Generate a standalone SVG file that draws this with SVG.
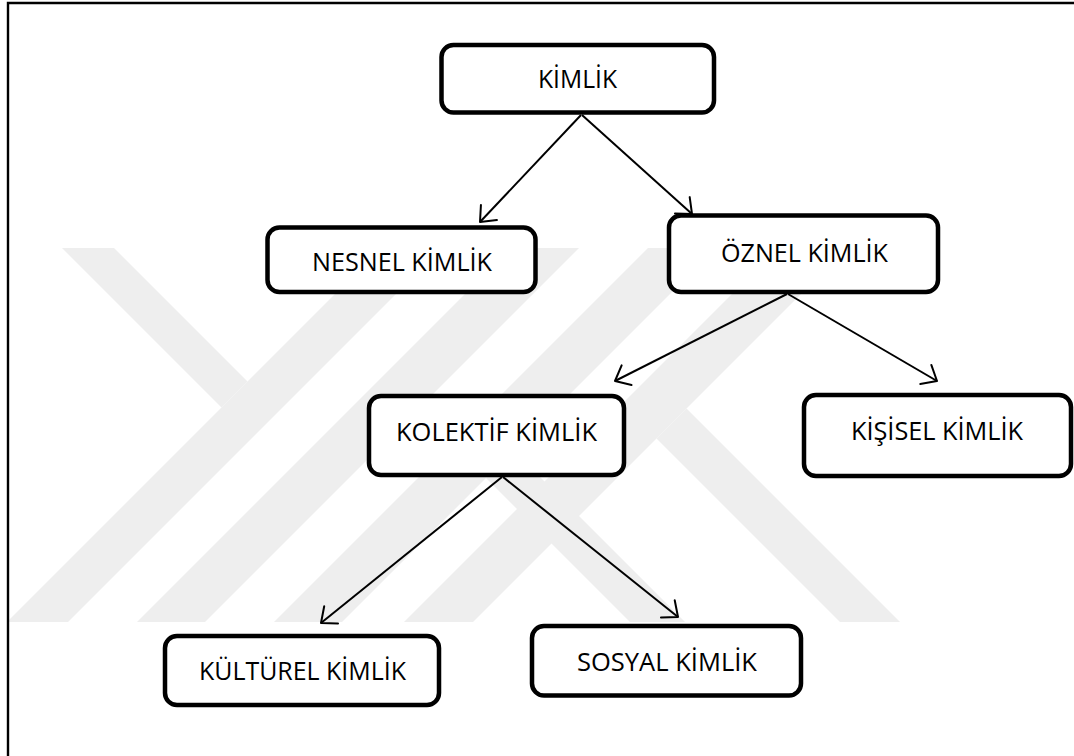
<svg xmlns="http://www.w3.org/2000/svg" width="1074" height="756" viewBox="0 0 1074 756">
  <style>
    .box { fill: #ffffff; stroke: #000000; stroke-width: 4.5; }
    .lbl { font-family: "Open Sans", "Noto Sans", "Liberation Sans", sans-serif; font-size: 26px; fill: #000000; text-anchor: middle; }
    .edge { stroke: #000000; stroke-width: 2; fill: none; marker-end: url(#open-arrow); }
    .frame { stroke: #000000; stroke-width: 2.4; fill: none; }
    .wm { fill: #eeeeee; }
  </style>
  <defs>
    <marker id="open-arrow" markerUnits="userSpaceOnUse" markerWidth="30" markerHeight="30" refX="0" refY="0" orient="auto" overflow="visible">
      <path d="M-13,-11 L0,0 L-13,11" fill="none" stroke="#000000" stroke-width="2" stroke-linecap="round" stroke-linejoin="round"/>
    </marker>
    <clipPath id="wm-clip">
      <rect x="9" y="248" width="1065" height="374"/>
    </clipPath>
  </defs>

  <rect x="0" y="0" width="1074" height="756" fill="#ffffff"/>

  <!-- light background emblem made of diagonal bands -->
  <g id="background-emblem" class="wm" clip-path="url(#wm-clip)">
    <polygon points="7,622 68,622 442,248 381,248"/>
    <polygon points="137,622 205,622 579,248 511,248"/>
    <polygon points="274,622 342,622 716,248 648,248"/>
    <polygon points="404,622 473,622 847,248 778,248"/>
    <polygon points="62,248 114,248 247.5,381.5 221.5,407.5"/>
    <polygon points="656.5,438.5 686.5,408.5 900,622 840,622"/>
    <polygon points="486,478 513.5,450.5 685,622 630,622"/>
  </g>

  <!-- page frame -->
  <path class="frame" d="M8,756 L8,3 L1074,3"/>

  <g id="connectors">
    <line class="edge" x1="581" y1="115" x2="480" y2="222"/>
    <line class="edge" x1="582" y1="115" x2="692" y2="214"/>
    <line class="edge" x1="787" y1="294" x2="615" y2="381"/>
    <line class="edge" x1="788" y1="294" x2="937" y2="381"/>
    <line class="edge" x1="502" y1="477" x2="321" y2="623"/>
    <line class="edge" x1="503" y1="477" x2="678" y2="617"/>
  </g>

  <g id="node-kimlik">
    <rect class="box" x="441.5" y="45" width="272.5" height="67.5" rx="12"/>
    <text class="lbl" x="577.5" y="88" textLength="79" lengthAdjust="spacingAndGlyphs">KİMLİK</text>
  </g>
  <g id="node-nesnel">
    <rect class="box" x="267.5" y="227.5" width="268" height="64.5" rx="12"/>
    <text class="lbl" x="402" y="271" textLength="180" lengthAdjust="spacingAndGlyphs">NESNEL KİMLİK</text>
  </g>
  <g id="node-oznel">
    <rect class="box" x="669" y="215.5" width="269" height="76.5" rx="12"/>
    <text class="lbl" x="804.5" y="262" textLength="167" lengthAdjust="spacingAndGlyphs">ÖZNEL KİMLİK</text>
  </g>
  <g id="node-kolektif">
    <rect class="box" x="369" y="396" width="255" height="79" rx="12"/>
    <text class="lbl" x="496.5" y="441" textLength="201" lengthAdjust="spacingAndGlyphs">KOLEKTİF KİMLİK</text>
  </g>
  <g id="node-kisisel">
    <rect class="box" x="804" y="395" width="267" height="81" rx="12"/>
    <text class="lbl" x="937" y="440" textLength="172" lengthAdjust="spacingAndGlyphs">KİŞİSEL KİMLİK</text>
  </g>
  <g id="node-kulturel">
    <rect class="box" x="165" y="636" width="274" height="69" rx="12"/>
    <text class="lbl" x="302.5" y="680" textLength="207" lengthAdjust="spacingAndGlyphs">KÜLTÜREL KİMLİK</text>
  </g>
  <g id="node-sosyal">
    <rect class="box" x="532" y="626" width="269" height="69.5" rx="12"/>
    <text class="lbl" x="667" y="671" textLength="180" lengthAdjust="spacingAndGlyphs">SOSYAL KİMLİK</text>
  </g>
</svg>
